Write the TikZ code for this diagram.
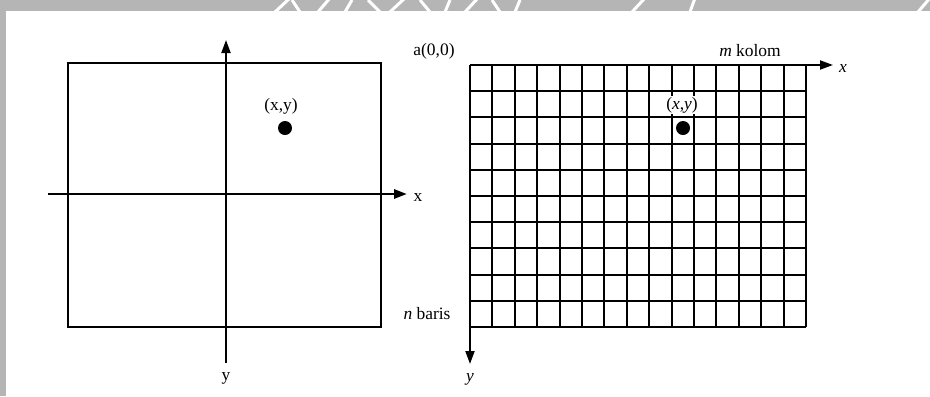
\documentclass[tikz,border=0pt]{standalone}
\usepackage{fontspec}
\setmainfont{Liberation Serif}
\usetikzlibrary{arrows.meta}
\begin{document}
\begin{tikzpicture}[x=1bp,y=-1bp,
  frame/.style={line width=2bp,black},
  gridline/.style={line width=1.9bp,black},
  axisline/.style={line width=2.8bp,black,-{Triangle[length=13bp,width=9bp]}},
  axisthin/.style={line width=2bp,black,-{Triangle[length=13bp,width=9bp]}},
  lbl/.style={font=\fontsize{17.5}{19}\selectfont,inner sep=0pt},
  pt/.style={circle,fill=black,inner sep=0pt,minimum size=14bp}]
\useasboundingbox (0,0) rectangle (930,396);
% scan frame
\fill[white] (0,0) rectangle (930,396);
\fill[black!29] (0,0) rectangle (930,11);
\fill[black!29] (0,0) rectangle (6,396);
\begin{scope}
\clip (0,0) rectangle (930,11);
\draw[white,line width=4bp] (62,-6) arc[start angle=200,end angle=340,radius=14];
\draw[white,line width=3bp] (275,12) -- (290,-2) (300,12) -- (292,0);
\draw[white,line width=3bp] (318,12) -- (330,-2) (345,12) -- (352,0) (368,0) -- (380,12);
\draw[white,line width=3bp] (390,12) -- (405,-2) (420,0) -- (430,12) (445,12) -- (450,0);
\draw[white,line width=3bp] (465,12) -- (478,-2) (492,0) -- (500,12) (515,12) -- (520,0);
\draw[white,line width=3bp] (632,12) -- (645,-2) (690,12) -- (695,-2);
\draw[white,line width=3bp] (918,12) -- (930,-2);
\end{scope}
% ---- left picture ----
\coordinate (L1) at (68,63);
\coordinate (L2) at (381,327);
\draw[frame] (L1) rectangle (L2);
\coordinate (vb) at (226,363);
\coordinate (vt) at (226,40);
\coordinate (hl) at (48,194);
\coordinate (hr) at (407,194);
\draw[axisthin] (vb) -- (vt);
\draw[axisline] (hl) -- (hr);
\node[lbl] (lx) at (418,197) {x};
\node[lbl] (ly) at (226,378) {y};
\node[pt] (ldot) at (285,128) {};
\node[lbl] (lxy) at (281,106) {(x,y)};
% ---- right picture ----
\coordinate (G1) at (470,65);
\coordinate (G2) at (806,327);
\foreach \i in {0,...,15} {
  \draw[gridline] ({470+\i*22.4},65) -- ({470+\i*22.4},327);
}
\foreach \j in {0,...,10} {
  \draw[gridline] (470,{65+\j*26.2}) -- (806,{65+\j*26.2});
}
\coordinate (xe) at (833,65);
\coordinate (ye) at (470,364);
\draw[axisthin] (G1) -- (xe);
\draw[axisthin] (470,327) -- (ye);
\node[lbl] (rx) at (843,68) {\itshape x};
\node[lbl] (ry) at (470,379) {\itshape y};
\node[pt] (rdot) at (683,128) {};
\node[lbl,fill=white,inner xsep=1bp,inner ysep=1.5bp] (rxy) at (682,105) {(\textit{x},\textit{y})};
\node[lbl] (a00) at (434,51) {a(0,0)};
\node[lbl] (mk) at (750,51) {\textit{m} kolom};
\node[lbl] (nb) at (427,314) {\textit{n} baris};
\end{tikzpicture}
\end{document}
